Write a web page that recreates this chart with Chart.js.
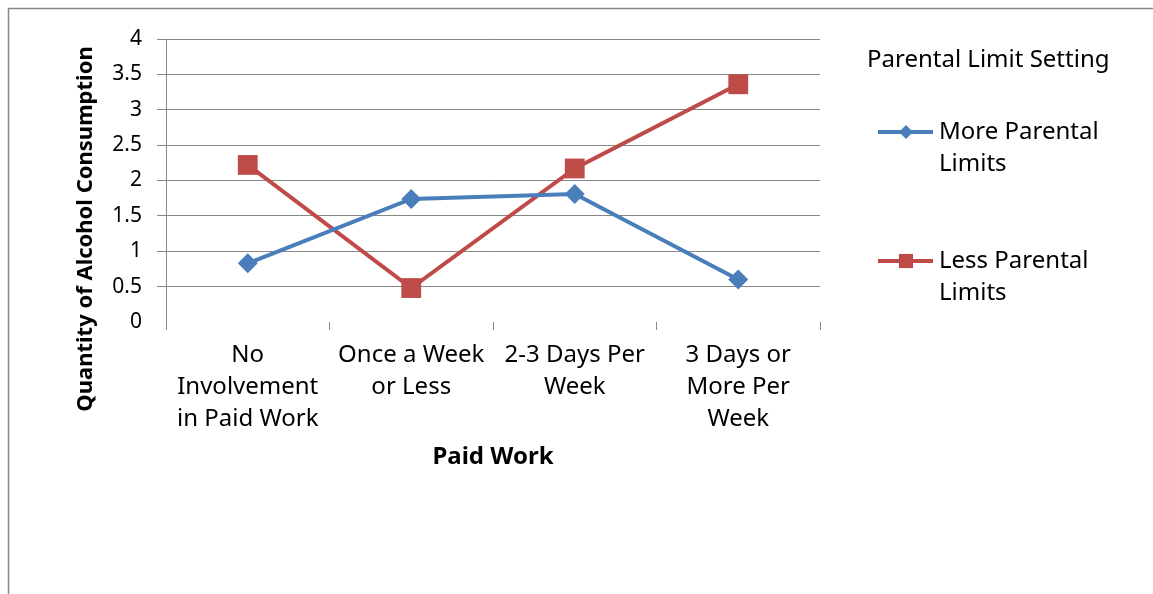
<!DOCTYPE html>
<html>
<head>
<meta charset="utf-8">
<script src="https://cdn.jsdelivr.net/npm/chart.js"></script>
<style>
  html, body { margin: 0; padding: 0; background: #fff; }
  #wrap { width: 1153px; height: 594px; position: relative; }
</style>
</head>
<body>
<div id="wrap"><canvas id="alcoholChart" width="1153" height="594"></canvas></div>
<script>
const categories = [
  ['No', 'Involvement', 'in Paid Work'],
  ['Once a Week', 'or Less'],
  ['2-3 Days Per', 'Week'],
  ['3 Days or', 'More Per', 'Week']
];
const moreLimits = [0.83, 1.74, 1.81, 0.60];
const lessLimits = [2.22, 0.48, 2.17, 3.36];
const seriesNames = ['More Parental Limits', 'Less Parental Limits'];
const legendTitle = 'Parental Limit Setting';
const xTitle = 'Paid Work';
const yTitle = 'Quantity of Alcohol Consumption';

const FONT = '"Noto Sans", "Open Sans", sans-serif';
const gridGray = '#868686';
const blue = '#4A7EBB';
const red = '#BE4B48';

// frame, rotated y title and the wrapped legend on the right
const extras = {
  id: 'extras',
  beforeDraw(chart) {
    const ctx = chart.ctx;
    ctx.save();
    ctx.strokeStyle = gridGray;
    ctx.lineWidth = 1.5;
    ctx.beginPath();
    ctx.moveTo(8.5, 594);
    ctx.lineTo(8.5, 8.5);
    ctx.lineTo(1153, 8.5);
    ctx.stroke();
    ctx.restore();
  },
  afterDraw(chart) {
    const ctx = chart.ctx;
    ctx.save();
    ctx.fillStyle = '#000';
    ctx.translate(86, 229);
    ctx.rotate(-Math.PI / 2);
    ctx.font = 'bold 22px ' + FONT;
    ctx.textAlign = 'center';
    ctx.textBaseline = 'middle';
    ctx.fillText(yTitle, 0, 0);
    ctx.restore();

    ctx.save();
    ctx.fillStyle = '#000';
    ctx.font = '24px ' + FONT;
    ctx.textAlign = 'left';
    ctx.textBaseline = 'middle';
    ctx.fillText(legendTitle, 867, 60);

    chart.data.datasets.forEach(function(ds, i) {
      const y = 132 + i * 129;
      ctx.strokeStyle = ds.borderColor;
      ctx.lineWidth = 4;
      ctx.beginPath();
      ctx.moveTo(878, y);
      ctx.lineTo(933, y);
      ctx.stroke();
      ctx.fillStyle = ds.borderColor;
      Chart.helpers.drawPoint(ctx, {
        pointStyle: ds.pointStyle,
        radius: ds.pointStyle === 'rect' ? 10 : 7,
        rotation: 0,
        borderWidth: 0
      }, 906, y);

      // wrap label into two lines
      const words = ds.label.split(' ');
      const lines = [words.slice(0, -1).join(' '), words[words.length - 1]];
      ctx.fillStyle = '#000';
      lines.forEach(function(t, j) {
        ctx.fillText(t, 939, y + j * 32);
      });
    });
    ctx.restore();
  }
};

const ctx = document.getElementById('alcoholChart').getContext('2d');
const chart = new Chart(ctx, {
  type: 'line',
  data: {
    labels: categories,
    datasets: [{
      label: seriesNames[0],
      data: moreLimits,
      borderColor: blue,
      backgroundColor: blue,
      borderWidth: 4,
      pointStyle: 'rectRot',
      pointRadius: 10,
      pointBorderWidth: 0,
      tension: 0
    }, {
      label: seriesNames[1],
      data: lessLimits,
      borderColor: red,
      backgroundColor: red,
      borderWidth: 4,
      pointStyle: 'rect',
      pointRadius: 14,
      pointBorderWidth: 0,
      tension: 0
    }]
  },
  options: {
    responsive: false,
    animation: false,
    layout: {
      padding: { left: 0, top: 39, right: 333, bottom: 0 }
    },
    plugins: {
      legend: { display: false },
      tooltip: { enabled: false }
    },
    scales: {
      x: {
        offset: true,
        afterFit: function(scale) { scale.height = 272; },
        grid: {
          offset: true,
          drawOnChartArea: false,
          drawTicks: true,
          tickLength: 8,
          color: gridGray
        },
        border: { display: false },
        ticks: {
          color: '#000',
          padding: 9,
          maxRotation: 0,
          autoSkip: false,
          font: { family: FONT, size: 24, lineHeight: 1.33 }
        },
        title: {
          display: true,
          text: xTitle,
          color: '#000',
          padding: { top: 0, bottom: 122 },
          font: { family: FONT, size: 24, weight: 'bold', lineHeight: 1.2 }
        }
      },
      y: {
        min: 0,
        max: 4,
        afterFit: function(scale) { scale.width = 166; },
        grid: {
          tickLength: 9,
          lineWidth: 1,
          color: function(c) { return c.tick && c.tick.value === 0 ? 'rgba(0,0,0,0)' : gridGray; }
        },
        border: { display: true, color: gridGray, width: 1 },
        ticks: {
          stepSize: 0.5,
          color: '#000',
          padding: 15,
          font: { family: FONT, size: 21 },
          callback: function(v) { return String(v); }
        }
      }
    }
  },
  plugins: [extras]
});
</script>
</body>
</html>
